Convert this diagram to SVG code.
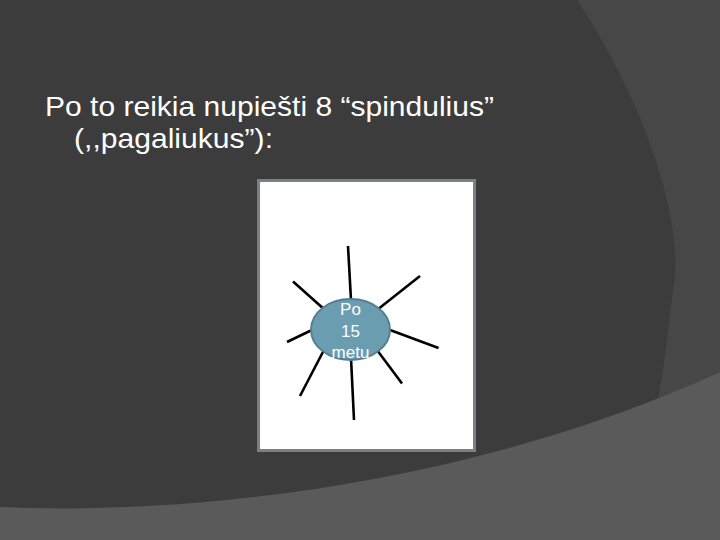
<svg xmlns="http://www.w3.org/2000/svg" width="720" height="540" viewBox="0 0 720 540">
  <style>
    .title { font-family: "Liberation Sans", Arial, sans-serif; font-size: 28px; fill: #ffffff; }
    .label { font-family: "Liberation Sans", Arial, sans-serif; font-size: 17px; fill: #ffffff; text-anchor: middle; }
    .ray { stroke: #000000; stroke-width: 2.6; stroke-linecap: butt; fill: none; }
  </style>
  <g id="background">
    <rect x="0" y="0" width="720" height="540" fill="#3c3c3c"/>
    <path d="M577,0 C650,110 685,230 673,290 C668,330 664,370 658,400 L720,372 L720,0 Z" fill="#474747"/>
    <path d="M0,507 C200,516 480,482 720,372 L720,540 L0,540 Z" fill="#5a5a5a"/>
  </g>
  <g id="title">
    <text class="title" x="45" y="116" textLength="449" lengthAdjust="spacingAndGlyphs">Po to reikia nupiešti 8 “spindulius”</text>
    <text class="title" x="74" y="148" textLength="199" lengthAdjust="spacingAndGlyphs">(,,pagaliukus”):</text>
  </g>
  <g id="panel">
    <rect x="258.5" y="180.5" width="216" height="270" fill="#ffffff" stroke="#7b7f87" stroke-width="3"/>
  </g>
  <g id="connectors">
    <line class="ray" x1="348" y1="246" x2="351" y2="300"/>
    <line class="ray" x1="420" y1="276" x2="377" y2="310"/>
    <line class="ray" x1="390" y1="330" x2="438.5" y2="348"/>
    <line class="ray" x1="377" y1="350" x2="402" y2="383.5"/>
    <line class="ray" x1="351" y1="358" x2="354" y2="420"/>
    <line class="ray" x1="325" y1="348" x2="300" y2="396"/>
    <line class="ray" x1="314" y1="329" x2="287" y2="342"/>
    <line class="ray" x1="293" y1="281.5" x2="325" y2="310"/>
  </g>
  <g id="node-center">
    <ellipse cx="350.5" cy="329.5" rx="39.5" ry="30.5" fill="#6b9db1" stroke="#557f91" stroke-width="2"/>
    <text class="label" x="350.5" y="315">Po</text>
    <text class="label" x="350.5" y="336.5">15</text>
    <text class="label" x="350.5" y="358">metu</text>
  </g>
</svg>
